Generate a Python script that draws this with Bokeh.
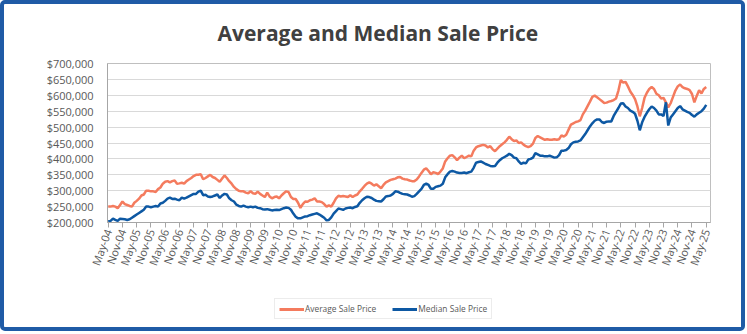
from bokeh.plotting import figure
from bokeh.layouts import column
from bokeh.models import Range1d, FixedTicker, NumeralTickFormatter, Legend, LegendItem, ColumnDataSource
from bokeh.embed import file_html
from bokeh.resources import INLINE

tick_labels = [
    "May-04", "Nov-04", "May-05", "Nov-05", "May-06", "Nov-06", "May-07", "Nov-07",
    "May-08", "Nov-08", "May-09", "Nov-09", "May-10", "Nov-10", "May-11", "Nov-11",
    "May-12", "Nov-12", "May-13", "Nov-13", "May-14", "Nov-14", "May-15", "Nov-15",
    "May-16", "Nov-16", "May-17", "Nov-17", "May-18", "Nov-18", "May-19", "Nov-19",
    "May-20", "Nov-20", "May-21", "Nov-21", "May-22", "Nov-22", "May-23", "Nov-23",
    "May-24", "Nov-24", "May-25",
]

y_ticks = [200000, 250000, 300000, 350000, 400000, 450000, 500000, 550000, 600000, 650000, 700000]

# Average sale price, thousands of dollars, monthly May-04 .. May-25
avg_k = [
    250, 250, 252, 250, 245, 255, 266, 258,
    255, 252, 250, 262, 268, 275, 285, 288, 300, 300, 298, 298,
    296, 305, 310, 322, 328, 330, 326, 330, 332, 322, 323, 325,
    322, 330, 335, 340, 346, 350, 350, 352, 336, 340, 345, 350,
    343, 340, 334, 328, 338, 348, 340, 330, 322, 312, 305, 300,
    298, 298, 294, 292, 298, 292, 290, 297, 290, 285, 280, 294,
    282, 276, 280, 282, 276, 285, 292, 298, 296, 280, 274, 274,
    262, 246, 258, 266, 265, 270, 272, 276, 266, 266, 264, 258,
    250, 254, 250, 262, 276, 284, 282, 283, 282, 280, 286, 280,
    285, 288, 298, 306, 315, 322, 326, 322, 316, 320, 314, 308,
    318, 326, 330, 334, 336, 338, 342, 343, 338, 336, 335, 332,
    330, 330, 335, 345, 356, 366, 370, 362, 352, 358, 356, 352,
    360, 370, 392, 402, 410, 412, 405, 396, 404, 410, 402, 406,
    410, 408, 426, 436, 440, 442, 444, 442, 436, 440, 430, 424,
    432, 440, 446, 452, 460, 470, 462, 456, 458, 450, 452, 445,
    440, 437, 440, 448, 466, 472, 468, 464, 460, 462, 460, 460,
    462, 460, 462, 474, 470, 476, 492, 508, 512, 516, 518, 522,
    540, 552, 566, 580, 595, 599, 594, 588, 582, 576, 577, 580,
    582, 585, 590, 615, 648, 640, 642, 628, 612, 601, 588, 565,
    534, 560, 592, 608, 620, 626, 620, 605, 600, 590, 592, 578,
    562, 575, 595, 615, 628, 634, 626, 622, 620, 616, 604, 578,
    598, 616, 606, 620, 626,
]

# Median sale price, thousands of dollars, monthly May-04 .. May-25
med_k = [
    203, 205, 212, 208, 205, 212, 211, 210,
    208, 210, 215, 220, 225, 230, 235, 240, 250, 250, 248, 250,
    252, 250, 260, 262, 268, 275, 278, 274, 275, 272, 270, 278,
    275, 278, 282, 286, 290, 290, 297, 300, 286, 287, 282, 280,
    282, 285, 288, 277, 285, 290, 288, 276, 270, 266, 256, 252,
    250, 253, 250, 248, 250, 248, 250, 246, 245, 242, 241, 242,
    240, 238, 239, 240, 239, 242, 245, 247, 246, 240, 228, 218,
    213, 213, 216, 219, 220, 223, 225, 227, 229, 225, 220, 215,
    207, 208, 216, 228, 236, 244, 242, 240, 244, 246, 247, 245,
    249, 251, 262, 270, 276, 281, 280, 277, 272, 268, 267, 266,
    273, 282, 283, 285, 290, 298, 297, 293, 290, 289, 288, 285,
    281, 283, 290, 298, 306, 318, 322, 318, 306, 306, 312, 314,
    316, 322, 342, 352, 360, 362, 360, 357, 356, 356, 357, 355,
    358, 360, 372, 388, 390, 392, 388, 384, 381, 378, 377, 378,
    388, 396, 402, 406, 410, 416, 412, 404, 402, 392, 384, 388,
    386, 398, 400, 404, 418, 414, 410, 410, 408, 408, 410, 407,
    404, 405, 412, 426, 426, 428, 434, 446, 452, 454, 455, 458,
    468, 478, 490, 502, 512, 520, 524, 524, 516, 513, 517, 518,
    518, 535, 548, 560, 574, 575, 565, 560, 552, 548, 542, 520,
    490, 515, 532, 545, 556, 565, 560, 552, 540, 540, 535, 578,
    505, 530, 540, 550, 560, 566, 556, 552, 548, 545, 538, 533,
    540, 545, 550, 558, 570,
]

series_names = ["Average Sale Price", "Median Sale Price"]
series_colors = ["#F47B5E", "#0D58A3"]

months = list(range(len(avg_k)))
source = ColumnDataSource(data=dict(
    m=months,
    avg=[v * 1000 for v in avg_k],
    med=[v * 1000 for v in med_k],
))

FONT = "Open Sans"
TXT = "#595959"

# ---- main chart ----
p = figure(width=737, height=280, output_backend="svg", toolbar_location=None,
           x_range=Range1d(-0.3, 253.8), y_range=Range1d(200000, 700000),
           min_border_left=103, min_border_right=31, min_border_top=57, min_border_bottom=62,
           background_fill_color="white", border_fill_color="white")

p.title.text = "Average and Median Sale Price"
p.title.text_font = FONT
p.title.text_font_size = "21px"
p.title.text_font_style = "bold"
p.title.text_color = "#404040"
p.title.align = "left"
p.title.offset = 110
p.title.vertical_align = "top"
p.title.standoff = 29

p.line("m", "avg", source=source, line_color=series_colors[0], line_width=2.5)
p.line("m", "med", source=source, line_color=series_colors[1], line_width=2.5)

p.outline_line_color = "#bfbfbf"
p.xgrid.grid_line_color = None
p.ygrid.grid_line_color = "#d9d9d9"
p.ygrid.ticker = FixedTicker(ticks=y_ticks)

ya = p.yaxis[0]
ya.ticker = FixedTicker(ticks=y_ticks)
ya.formatter = NumeralTickFormatter(format="$0,0")
ya.major_tick_line_color = None
ya.minor_tick_line_color = None
ya.axis_line_color = "#a6a6a6"
ya.major_label_text_font = FONT
ya.major_label_text_font_size = "11px"
ya.major_label_text_color = TXT
ya.major_label_standoff = 8

xa = p.xaxis[0]
tick_pos = [i * 6 for i in range(len(tick_labels))]
xa.ticker = FixedTicker(ticks=tick_pos)
xa.major_label_overrides = {t: lab for t, lab in zip(tick_pos, tick_labels)}
xa.major_label_orientation = 1.22
xa.major_tick_out = 5
xa.major_tick_in = 0
xa.minor_tick_line_color = None
xa.major_tick_line_color = "#a6a6a6"
xa.axis_line_color = "#a6a6a6"
xa.major_label_text_font = FONT
xa.major_label_text_font_size = "11px"
xa.major_label_text_color = TXT
xa.major_label_standoff = 2

# ---- legend strip (series drawn off-range, only their legend glyphs show) ----
pl = figure(width=737, height=43, output_backend="svg", toolbar_location=None,
            x_range=Range1d(0, 1), y_range=Range1d(0, 1),
            x_axis_location=None, y_axis_location=None,
            min_border=0, outline_line_color=None,
            background_fill_color="white", border_fill_color="white")
pl.xgrid.grid_line_color = None
pl.ygrid.grid_line_color = None
lr = [pl.line("m", col, source=source, line_color=c, line_width=3)
      for col, c in zip(["avg", "med"], series_colors)]

legend = Legend(items=[LegendItem(label=n, renderers=[r]) for n, r in zip(series_names, lr)],
                orientation="horizontal", location=(167, 8))
legend.border_line_color = "#d9d9d9"
legend.label_text_font = FONT
legend.label_text_font_size = "8.4px"
legend.label_text_color = TXT
legend.glyph_width = 25
legend.glyph_height = 8
legend.label_height = 8
legend.label_standoff = 1
legend.padding = 4
legend.spacing = 16
legend.margin = 0
pl.add_layout(legend, "center")

layout = column(p, pl, spacing=0,
                styles={"border": "4px solid #1F5BA6", "border-radius": "5px",
                        "background-color": "white"})

open("out.html", "w").write(file_html(layout, INLINE))
